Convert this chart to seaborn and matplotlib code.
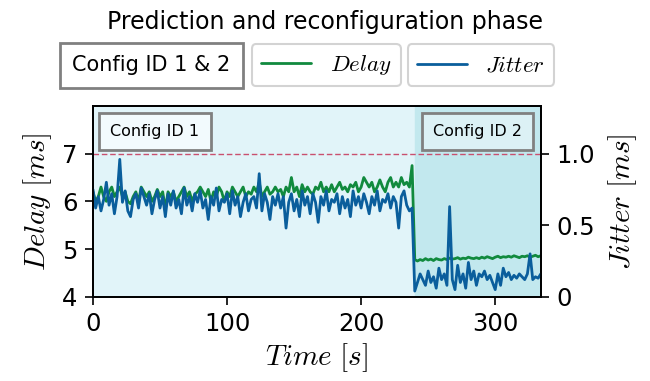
import numpy as np
import matplotlib
matplotlib.use("Agg")
import matplotlib.pyplot as plt
import seaborn as sns
from matplotlib.lines import Line2D

# time axis, one sample every 2 s
time = np.arange(0, 336, 2)

# delay in ms (left axis)
delay = [
    6.2, 6.0, 6.1, 6.3, 6.1, 6.0, 6.2, 6.3, 6.1, 6.2,
    6.3, 6.1, 6.2, 6.0, 5.95, 6.1, 6.2, 6.0, 6.3, 6.2,
    6.1, 6.2, 6.0, 6.1, 6.25, 6.1, 6.2, 5.85, 6.2, 6.1,
    6.2, 6.0, 6.1, 6.2, 6.3, 6.1, 6.2, 6.0, 6.15, 6.2,
    6.3, 6.2, 6.1, 6.25, 6.0, 6.2, 6.1, 6.3, 6.2, 6.0,
    6.2, 6.1, 6.3, 6.2, 6.1, 6.2, 6.3, 6.1, 6.2, 6.15,
    6.3, 6.2, 6.4, 6.1, 6.2, 6.3, 6.15, 6.2, 6.3, 6.2,
    6.25, 6.1, 6.3, 6.2, 6.5, 6.2, 6.3, 6.1, 6.35, 6.2,
    6.3, 6.2, 6.15, 6.3, 6.25, 6.4, 6.2, 6.3, 6.2, 6.35,
    6.2, 6.3, 6.4, 6.25, 6.3, 6.2, 6.35, 6.3, 6.4, 6.2,
    6.3, 6.5, 6.4, 6.3, 6.4, 6.2, 6.3, 6.45, 6.3, 6.2,
    6.4, 6.5, 6.3, 6.4, 6.3, 6.5, 6.35, 6.4, 6.3, 6.75,
    4.78, 4.75, 4.78, 4.76, 4.80, 4.77, 4.79, 4.76, 4.80, 4.78,
    4.77, 4.80, 4.78, 4.81, 4.79, 4.80, 4.82, 4.79, 4.81, 4.80,
    4.83, 4.81, 4.80, 4.82, 4.80, 4.83, 4.81, 4.84, 4.82, 4.80,
    4.83, 4.85, 4.82, 4.84, 4.83, 4.85, 4.83, 4.86, 4.84, 4.82,
    4.85, 4.84, 4.86, 4.83, 4.85, 4.87, 4.84, 4.86,
]

# jitter in ms (right axis)
jitter = [
    0.75, 0.62, 0.70, 0.60, 0.68, 0.80, 0.64, 0.72, 0.58, 0.70,
    0.96, 0.66, 0.74, 0.60, 0.56, 0.68, 0.72, 0.62, 0.76, 0.70,
    0.64, 0.72, 0.58, 0.68, 0.74, 0.62, 0.70, 0.56, 0.72, 0.64,
    0.74, 0.62, 0.68, 0.58, 0.76, 0.64, 0.70, 0.60, 0.72, 0.66,
    0.74, 0.62, 0.68, 0.54, 0.70, 0.64, 0.76, 0.60, 0.68, 0.66,
    0.72, 0.58, 0.74, 0.64, 0.70, 0.56, 0.66, 0.72, 0.60, 0.68,
    0.70, 0.62, 0.86, 0.60, 0.72, 0.66, 0.54, 0.70, 0.64, 0.72,
    0.62, 0.70, 0.48, 0.66, 0.72, 0.60, 0.68, 0.56, 0.74, 0.64,
    0.70, 0.58, 0.72, 0.66, 0.52, 0.70, 0.64, 0.74, 0.60, 0.68,
    0.66, 0.72, 0.58, 0.70, 0.62, 0.68, 0.56, 0.74, 0.64, 0.70,
    0.62, 0.72, 0.66, 0.58, 0.70, 0.64, 0.74, 0.60, 0.68, 0.66,
    0.72, 0.62, 0.70, 0.66, 0.48, 0.70, 0.74, 0.64, 0.60, 0.62,
    0.04, 0.10, 0.16, 0.12, 0.08, 0.18, 0.10, 0.14, 0.06, 0.20,
    0.12, 0.16, 0.08, 0.63, 0.12, 0.05, 0.22, 0.10, 0.16, 0.06,
    0.24, 0.12, 0.18, 0.08, 0.16, 0.14, 0.18, 0.12, 0.15, 0.10,
    0.05, 0.16, 0.08, 0.20, 0.14, 0.17, 0.12, 0.15, 0.13, 0.16,
    0.14, 0.12, 0.16, 0.30, 0.12, 0.14, 0.13, 0.16,
]

switch_time = 240
delay_limit = 7

green = "#118a3e"
blue = "#0a5e9c"

sns.set_style("ticks")
plt.rcParams["font.family"] = ["DejaVu Sans"]
plt.rcParams["mathtext.fontset"] = "cm"
plt.rcParams["text.color"] = "black"
plt.rcParams["axes.labelcolor"] = "black"
plt.rcParams["xtick.color"] = "black"
plt.rcParams["ytick.color"] = "black"

fig = plt.figure(figsize=(6.5, 3.81), dpi=100)
ax = fig.add_axes([0.143, 0.221, 0.689, 0.501])
ax2 = ax.twinx()

ax.axvspan(0, switch_time, color="#e1f4f9", zorder=0)
ax.axvspan(switch_time, 334, color="#c2e8ee", zorder=0)
ax.axhline(delay_limit, color="#c9506f", ls="--", lw=1.0, dashes=(4, 2))

sns.lineplot(x=time, y=delay, ax=ax, color=green, lw=2.0)
sns.lineplot(x=time, y=jitter, ax=ax2, color=blue, lw=2.0)

ax.set_xlim(0, 334)
ax.set_ylim(4, 8)
ax.set_yticks([4, 5, 6, 7])
ax2.set_ylim(0, 4 / 3)
ax2.set_yticks([0, 0.5, 1.0])
ax2.set_yticklabels(["0", "0.5", "1.0"])
ax.set_xticks([0, 100, 200, 300])

ax.set_xlabel(r"$Time\ [s]$", fontsize=21, labelpad=4)
ax.set_ylabel(r"$Delay\ [ms]$", fontsize=21, labelpad=6)
ax2.set_ylabel(r"$Jitter\ [ms]$", fontsize=21, labelpad=8)

for a in (ax, ax2):
    a.tick_params(labelsize=17.5, length=6, width=1.2, direction="out", pad=5)
    for s in a.spines.values():
        s.set_linewidth(1.3)
        s.set_color("black")

ax.text(13, 7.62, "Config ID 1", fontsize=11.5, va="top", ha="left",
        bbox=dict(boxstyle="square,pad=0.7", fc="#f2fafd", ec="gray", lw=2))
ax.text(320, 7.62, "Config ID 2", fontsize=11.5, va="top", ha="right",
        bbox=dict(boxstyle="square,pad=0.7", fc="#dcf1f5", ec="gray", lw=2))

fig.suptitle("Prediction and reconfiguration phase", fontsize=17, y=0.975)

fig.text(0.233, 0.829, "Config ID 1 & 2", fontsize=15, ha="center", va="center",
         bbox=dict(boxstyle="square,pad=0.6", fc="white", ec="gray", lw=2))

leg1 = fig.legend(handles=[Line2D([], [], color=green, lw=2.0)], labels=[r"$Delay$"],
                  loc="center", bbox_to_anchor=(0.502, 0.829), fontsize=16.5,
                  edgecolor="lightgray", framealpha=1, handlelength=2.2)
leg2 = fig.legend(handles=[Line2D([], [], color=blue, lw=2.0)], labels=[r"$Jitter$"],
                  loc="center", bbox_to_anchor=(0.74, 0.829), fontsize=16.5,
                  edgecolor="lightgray", framealpha=1, handlelength=2.2)
leg1.get_frame().set_linewidth(1.5)
leg2.get_frame().set_linewidth(1.5)

fig.savefig("out.png", dpi=100)
